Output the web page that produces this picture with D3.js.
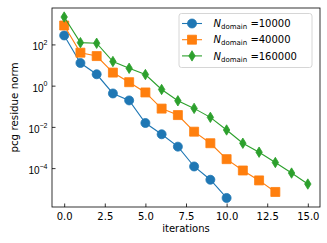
<!DOCTYPE html>
<html><head><meta charset="utf-8">
<script src="https://cdn.jsdelivr.net/npm/d3@7"></script>
<style>body{margin:0;background:#fff}svg{display:block;font-family:"DejaVu Sans",sans-serif}</style>
</head><body><svg id="c" width="327" height="243"></svg>
<script>
const seriesLabels = ["10000", "40000", "160000"];
const colors = ["#1f77b4", "#ff7f0e", "#2ca02c"];
const markers = ["circle", "square", "thin_diamond"];
const blue = [272, 12.5, 3.56, 0.418, 0.192, 0.0154, 0.00438, 0.0011, 1.2e-4, 2.73e-5, 3.57e-6];
const orange = [826, 39.7, 27.2, 4.3, 1.47, 0.467, 0.077, 0.0374, 0.00585, 0.00161, 2.72e-4, 7.67e-5, 2.53e-5, 6.97e-6];
const green = [2125, 122, 114, 14.8, 6.95, 3.45, 0.652, 0.184, 0.0789, 0.029, 0.00707, 0.00161, 5.93e-4, 1.87e-4, 5.75e-5, 1.69e-5];
const xTicks = [0, 2.5, 5, 7.5, 10, 12.5, 15];
const yTickExps = [2, 0, -2, -4];
const xLabel = "iterations";
const yLabel = "pcg residue norm";

const series = [blue, orange, green];
const svg = d3.select("#c");
const L = 52, T = 8, R = 320, B = 207;

const xMax = d3.max(series, s => s.length - 1);
const xm = xMax * 0.05;
const x = d3.scaleLinear().domain([-xm, xMax + xm]).range([L, R]);
const all = series.flat();
const lmin = Math.log10(d3.min(all)), lmax = Math.log10(d3.max(all));
const lm = (lmax - lmin) * 0.05;
const y = d3.scaleLog().domain([10 ** (lmin - lm), 10 ** (lmax + lm)]).range([B, T]);

// axes
const xAxis = d3.axisBottom(x).tickValues(xTicks).tickSizeInner(-3.5).tickSizeOuter(0).tickPadding(6).tickFormat(d3.format(".1f"));
const gx = svg.append("g").attr("transform", `translate(0,${B})`).call(xAxis);
gx.select(".domain").remove();
gx.selectAll("line").attr("stroke", "#000").attr("stroke-width", 0.8);
gx.selectAll("text").attr("font-size", 10).attr("fill", "#000").attr("font-family", "DejaVu Sans");

const yAxis = d3.axisLeft(y).tickValues(yTickExps.map(e => 10 ** e)).tickSizeInner(-3.5).tickSizeOuter(0).tickPadding(5).tickFormat("");
const gy = svg.append("g").attr("transform", `translate(${L},0)`).call(yAxis);
gy.select(".domain").remove();
gy.selectAll("line").attr("stroke", "#000").attr("stroke-width", 0.8);
gy.selectAll(".tick").each(function(d) {
  const e = Math.round(Math.log10(d));
  const t = d3.select(this).select("text").attr("font-size", 10).attr("fill", "#000").attr("x", -4.5).attr("dy", "0.55em").text(null);
  t.append("tspan").text("10");
  t.append("tspan").attr("font-size", 7).attr("dy", "-0.75em").text(e < 0 ? "\u2212" + (-e) : String(e));
});

// frame
svg.append("rect").attr("x", L).attr("y", T).attr("width", R - L).attr("height", B - T)
  .attr("fill", "none").attr("stroke", "#000").attr("stroke-width", 0.8);

const sym = {
  circle: d3.symbol().type(d3.symbolCircle).size(Math.PI * 4.5 * 4.5),
  square: d3.symbol().type(d3.symbolSquare).size(81)
};
function drawMarker(g, kind, cx, cy, col) {
  if (kind === "thin_diamond") {
    g.append("path").attr("d", `M${cx},${cy - 5.2}L${cx + 3.2},${cy}L${cx},${cy + 5.2}L${cx - 3.2},${cy}Z`).attr("fill", col).attr("stroke", col).attr("stroke-width", 0.8);
  } else {
    g.append("path").attr("d", sym[kind]()).attr("transform", `translate(${cx},${cy})`).attr("fill", col).attr("stroke", col).attr("stroke-width", 0.8);
  }
}

const line = d3.line().x((d, i) => x(i)).y(d => y(d));
series.forEach((s, k) => {
  const g = svg.append("g");
  g.append("path").datum(s).attr("d", line).attr("fill", "none").attr("stroke", colors[k]).attr("stroke-width", 1.1);
  s.forEach((v, i) => drawMarker(g, markers[k], x(i), y(v), colors[k]));
});

// legend
const lg = svg.append("g");
lg.append("rect").attr("x", 179).attr("y", 13.5).attr("width", 133).attr("height", 54).attr("rx", 2.5)
  .attr("fill", "#fff").attr("fill-opacity", 0.8).attr("stroke", "#ccc").attr("stroke-width", 0.8);
seriesLabels.forEach((lab, k) => {
  const yy = 23.5 + k * 16.2;
  lg.append("line").attr("x1", 182).attr("x2", 202).attr("y1", yy).attr("y2", yy).attr("stroke", colors[k]).attr("stroke-width", 1.1);
  drawMarker(lg, markers[k], 192, yy, colors[k]);
  const t = lg.append("text").attr("x", 213.5).attr("y", yy + 3.6).attr("font-size", 10).attr("fill", "#000");
  t.append("tspan").attr("font-style", "italic").text("N");
  t.append("tspan").attr("font-size", 7).attr("dy", 2).text("domain");
  t.append("tspan").attr("dy", -2).text("\u00a0=" + lab);
});

svg.append("text").attr("x", (L + R) / 2).attr("y", 232).attr("text-anchor", "middle").attr("font-size", 10).attr("fill", "#000").text(xLabel);
svg.append("text").attr("transform", `translate(18,${(T + B) / 2}) rotate(-90)`).attr("text-anchor", "middle").attr("font-size", 10.3).attr("fill", "#000").text(yLabel);
</script></body></html>
